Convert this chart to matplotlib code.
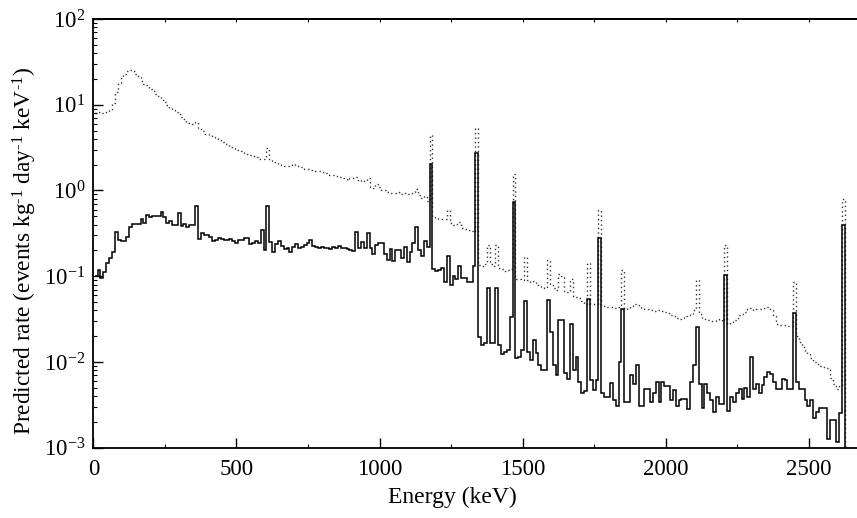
import numpy as np
import matplotlib
matplotlib.use("Agg")
import matplotlib.pyplot as plt
from matplotlib.ticker import LogLocator, MultipleLocator

plt.rcParams['font.family'] = ['Liberation Serif', 'DejaVu Serif']
plt.rcParams['mathtext.fontset'] = 'custom'
plt.rcParams['mathtext.rm'] = 'Liberation Serif'
plt.rcParams['mathtext.it'] = 'Liberation Serif:italic'
plt.rcParams['axes.unicode_minus'] = False

# 10 keV bins
edges = np.arange(5, 2636, 10)

# solid histogram
rate_solid = [
    0.10, 0.118, 0.095, 0.112, 0.141, 0.165, 0.19, 0.33, 0.264, 0.26,
    0.26, 0.288, 0.377, 0.405, 0.405, 0.41, 0.46, 0.42, 0.515, 0.494,
    0.505, 0.505, 0.50, 0.555, 0.494, 0.42, 0.44, 0.395, 0.395, 0.54,
    0.39, 0.405, 0.377, 0.395, 0.395, 0.658, 0.275, 0.32, 0.305, 0.30,
    0.288, 0.26, 0.265, 0.28, 0.275, 0.268, 0.268, 0.275, 0.26, 0.242,
    0.262, 0.265, 0.28, 0.28, 0.235, 0.245, 0.255, 0.245, 0.345, 0.20,
    0.658, 0.252, 0.19, 0.24, 0.26, 0.225, 0.205, 0.211, 0.193, 0.22,
    0.237, 0.211, 0.22, 0.23, 0.245, 0.268, 0.225, 0.22, 0.211, 0.22,
    0.215, 0.215, 0.205, 0.22, 0.211, 0.225, 0.211, 0.211, 0.205, 0.20,
    0.198, 0.33, 0.211, 0.252, 0.215, 0.316, 0.215, 0.18, 0.23, 0.241,
    0.241, 0.184, 0.154, 0.205, 0.151, 0.20, 0.20, 0.161, 0.22, 0.147,
    0.193, 0.241, 0.377, 0.20, 0.17, 0.26, 0.22, 2.05, 0.12, 0.114,
    0.118, 0.124, 0.085, 0.17, 0.078, 0.10, 0.093, 0.13, 0.095, 0.095,
    0.085, 0.086, 0.13, 2.73, 0.0196, 0.0157, 0.0167, 0.073, 0.0167, 0.0165,
    0.072, 0.0157, 0.0123, 0.0131, 0.0137, 0.0336, 0.74, 0.011, 0.0115, 0.0137,
    0.052, 0.013, 0.0105, 0.018, 0.0126, 0.0092, 0.008, 0.008, 0.0526, 0.0224,
    0.0092, 0.007, 0.031, 0.031, 0.0075, 0.0064, 0.028, 0.008, 0.0113, 0.0059,
    0.0043, 0.0046, 0.0536, 0.0061, 0.0047, 0.0061, 0.276, 0.0043, 0.0039, 0.0039,
    0.0057, 0.0036, 0.0031, 0.010, 0.041, 0.0034, 0.0034, 0.007, 0.0056, 0.0091,
    0.0031, 0.0031, 0.0049, 0.0049, 0.0034, 0.0043, 0.0059, 0.0034, 0.0059, 0.0052,
    0.0052, 0.0036, 0.0047, 0.0031, 0.0036, 0.0037, 0.0037, 0.0028, 0.0059, 0.0092,
    0.0257, 0.0055, 0.0029, 0.0056, 0.0044, 0.0036, 0.0026, 0.0039, 0.0032, 0.0032,
    0.103, 0.0027, 0.0039, 0.0034, 0.0043, 0.0049, 0.0037, 0.005, 0.0039, 0.0115,
    0.0049, 0.0056, 0.0044, 0.0054, 0.0066, 0.0077, 0.0072, 0.0059, 0.0048, 0.0048,
    0.0064, 0.0062, 0.0049, 0.0049, 0.0374, 0.0059, 0.0049, 0.0048, 0.0036, 0.0031,
    0.0036, 0.00225, 0.0026, 0.0029, 0.0029, 0.0029, 0.00128, 0.0021, 0.0021, 0.00117,
    0.00255, 0.394, 1e-4,
]

# dotted histogram
rate_dotted = [
    8.1, 8.2, 8.0, 8.2, 8.3, 8.8, 10.4, 14.2, 18.0, 21.0,
    23.0, 25.0, 25.2, 24.6, 22.7, 21.0, 19.0, 17.6, 16.8, 15.3,
    14.6, 13.5, 12.7, 11.6, 10.8, 9.9, 9.2, 8.6, 8.2, 7.8,
    7.2, 6.8, 6.2, 6.0, 6.0, 6.3, 5.3, 4.9, 4.6, 4.5,
    4.4, 4.2, 4.1, 3.9, 3.7, 3.65, 3.5, 3.2, 3.1, 3.0,
    2.95, 2.85, 2.75, 2.65, 2.6, 2.55, 2.45, 2.35, 2.3, 2.3,
    3.1, 2.25, 2.15, 2.1, 2.05, 2.0, 1.95, 1.95, 2.0, 2.02,
    2.0, 1.95, 1.88, 1.8, 1.78, 1.73, 1.7, 1.7, 1.68, 1.63,
    1.6, 1.56, 1.52, 1.5, 1.47, 1.43, 1.4, 1.36, 1.32, 1.38,
    1.40, 1.45, 1.3, 1.33, 1.3, 1.38, 1.1, 1.07, 1.18, 1.1,
    1.02, 1.0, 0.96, 0.94, 0.93, 0.94, 0.95, 0.92, 0.93, 0.9,
    0.92, 0.95, 1.05, 0.88, 0.82, 0.86, 0.76, 4.4, 0.49, 0.48,
    0.46, 0.47, 0.46, 0.59, 0.42, 0.40, 0.41, 0.43, 0.37, 0.36,
    0.35, 0.34, 0.33, 5.3, 0.135, 0.13, 0.14, 0.23, 0.14, 0.13,
    0.23, 0.125, 0.12, 0.115, 0.118, 0.12, 1.55, 0.094, 0.094, 0.09,
    0.168, 0.09, 0.085, 0.088, 0.082, 0.077, 0.075, 0.073, 0.154, 0.08,
    0.073, 0.07, 0.105, 0.10, 0.068, 0.066, 0.094, 0.058, 0.058, 0.056,
    0.052, 0.048, 0.141, 0.048, 0.047, 0.047, 0.60, 0.046, 0.045, 0.044,
    0.044, 0.043, 0.044, 0.045, 0.118, 0.042, 0.043, 0.045, 0.047, 0.046,
    0.044, 0.043, 0.042, 0.041, 0.040, 0.039, 0.040, 0.040, 0.039, 0.038,
    0.037, 0.035, 0.034, 0.033, 0.032, 0.033, 0.034, 0.035, 0.036, 0.040,
    0.09, 0.036, 0.033, 0.032, 0.031, 0.030, 0.030, 0.031, 0.032, 0.030,
    0.23, 0.028, 0.029, 0.031, 0.033, 0.035, 0.036, 0.038, 0.041, 0.043,
    0.040, 0.041, 0.042, 0.041, 0.043, 0.044, 0.040, 0.034, 0.028, 0.027,
    0.027, 0.026, 0.026, 0.026, 0.086, 0.020, 0.017, 0.015, 0.013, 0.0125,
    0.011, 0.010, 0.0095, 0.009, 0.0088, 0.0085, 0.0085, 0.0065, 0.0056, 0.0049,
    0.0052, 0.79, 1e-4,
]

fig = plt.figure(figsize=(8.57, 5.18), dpi=100)
ax = fig.add_axes([0.1089, 0.1357, 0.8917, 0.8276])

ax.stairs(rate_dotted, edges, baseline=None, color='#333333', lw=1.0,
          linestyle=(0, (1, 2.2)))
ax.stairs(rate_solid, edges, baseline=None, color='black', lw=1.1)

ax.set_yscale('log')
ax.set_xlim(0, 2670)
ax.set_ylim(1e-3, 1e2)

ax.xaxis.set_major_locator(MultipleLocator(500))
ax.xaxis.set_minor_locator(MultipleLocator(250))
ax.yaxis.set_major_locator(LogLocator(base=10, numticks=10))
ax.yaxis.set_minor_locator(LogLocator(base=10, subs=np.arange(2, 10), numticks=20))

ax.tick_params(which='both', direction='in', top=False, right=False,
               labelsize=16.5)
ax.tick_params(axis='x', pad=8)
ax.tick_params(axis='y', pad=6)
ax.tick_params(which='major', length=7, width=1.0)
ax.tick_params(which='minor', length=3, width=0.8)

# short ticks along the top edge
top = ax.secondary_xaxis('top')
top.xaxis.set_major_locator(MultipleLocator(250))
top.tick_params(direction='in', length=2.5, width=0.8, labeltop=False)
top.spines['top'].set_linewidth(1.3)

for side in ['left', 'bottom', 'top']:
    ax.spines[side].set_linewidth(1.3)
ax.spines['right'].set_visible(False)

ax.set_xlabel('Energy (keV)', fontsize=17)
ax.set_ylabel(r'Predicted rate (events kg$^{\text{-1}}$ day$^{\text{-1}}$ keV$^{\text{-1}}$)',
              fontsize=16.8)
ax.xaxis.label.set_va('center')
ax.xaxis.set_label_coords(0.47, -0.115)
ax.yaxis.label.set_va('center')
ax.yaxis.set_label_coords(-0.0894, 0.46)

fig.savefig('out.png', dpi=100)
